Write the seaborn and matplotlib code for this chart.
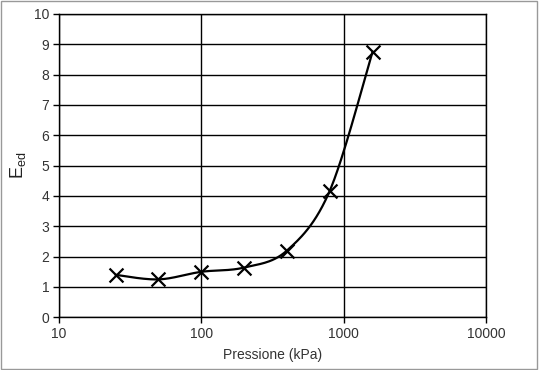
import numpy as np
import pandas as pd
import matplotlib
matplotlib.use("Agg")
import matplotlib.pyplot as plt
import seaborn as sns
from matplotlib.ticker import FixedLocator, NullLocator, FixedFormatter

# data
pressione = [25, 50, 100, 200, 400, 800, 1600]
e_ed = [1.40, 1.25, 1.50, 1.64, 2.20, 4.17, 8.76]
x_ticks = [10, 100, 1000, 10000]
x_labels = ['10', '100', '1000', '10000']
y_ticks = list(range(0, 11))


def smooth_curve(xs, ys, n=30):
    """Excel-like smoothed line (Catmull-Rom) in log-x / linear-y space"""
    lx = np.log10(np.asarray(xs, dtype=float))
    ly = np.asarray(ys, dtype=float)
    px = np.concatenate([[lx[0]], lx, [lx[-1]]])
    py = np.concatenate([[ly[0]], ly, [ly[-1]]])
    out_x, out_y = [], []
    for i in range(1, len(px) - 2):
        p0, p1, p2, p3 = (np.array([px[j], py[j]]) for j in (i - 1, i, i + 1, i + 2))
        c1 = p1 + (p2 - p0) / 6.0
        c2 = p2 - (p3 - p1) / 6.0
        t = np.linspace(0, 1, n)[:, None]
        pts = ((1 - t) ** 3) * p1 + 3 * ((1 - t) ** 2) * t * c1 + 3 * (1 - t) * t ** 2 * c2 + t ** 3 * p2
        out_x.extend(pts[:, 0])
        out_y.extend(pts[:, 1])
    return 10 ** np.array(out_x), np.array(out_y)


sns.set_style("white")
plt.rcParams['font.family'] = ['Liberation Sans', 'DejaVu Sans']
plt.rcParams['mathtext.fontset'] = 'custom'
plt.rcParams['mathtext.rm'] = 'Liberation Sans'
plt.rcParams['mathtext.it'] = 'Liberation Sans'

fig = plt.figure(figsize=(5.41, 3.70), dpi=100)
ax = fig.add_axes([0.109, 0.1424, 0.789, 0.8198])

sx, sy = smooth_curve(pressione, e_ed)
curve = pd.DataFrame({'x': sx, 'y': sy})
points = pd.DataFrame({'Pressione': pressione, 'Eed': e_ed})

sns.lineplot(data=curve, x='x', y='y', ax=ax, color='black', linewidth=1.6,
             sort=False, estimator=None, zorder=3)
sns.scatterplot(data=points, x='Pressione', y='Eed', ax=ax, marker='x',
                color='black', s=100, linewidth=1.6, zorder=4)

ax.set_xscale('log')
ax.set_xlim(10, 10000)
ax.set_ylim(0, 10)
ax.xaxis.set_major_locator(FixedLocator(x_ticks))
ax.xaxis.set_major_formatter(FixedFormatter(x_labels))
ax.xaxis.set_minor_locator(NullLocator())
ax.set_yticks(y_ticks)

ax.grid(True, which='major', color='black', linewidth=1.0)
for side in ['top', 'right', 'bottom', 'left']:
    ax.spines[side].set_color('black')
    ax.spines[side].set_linewidth(1.0)

ax.tick_params(axis='both', which='major', direction='out', length=4, width=1,
               color='black', labelsize=10, labelcolor='#333333', pad=3,
               bottom=True, left=True)

ax.set_xlabel('Pressione (kPa)', fontsize=10, color='#333333', labelpad=5)
ax.set_ylabel(r'E$_{\mathrm{ed}}$', fontsize=13, color='#222222', labelpad=4)

# thin frame around the whole picture
fig.patches.append(plt.Rectangle((0.002, 0.002), 0.991, 0.995, transform=fig.transFigure,
                                 fill=False, edgecolor='#999999', linewidth=1.0))

fig.savefig('out.png', dpi=100)
